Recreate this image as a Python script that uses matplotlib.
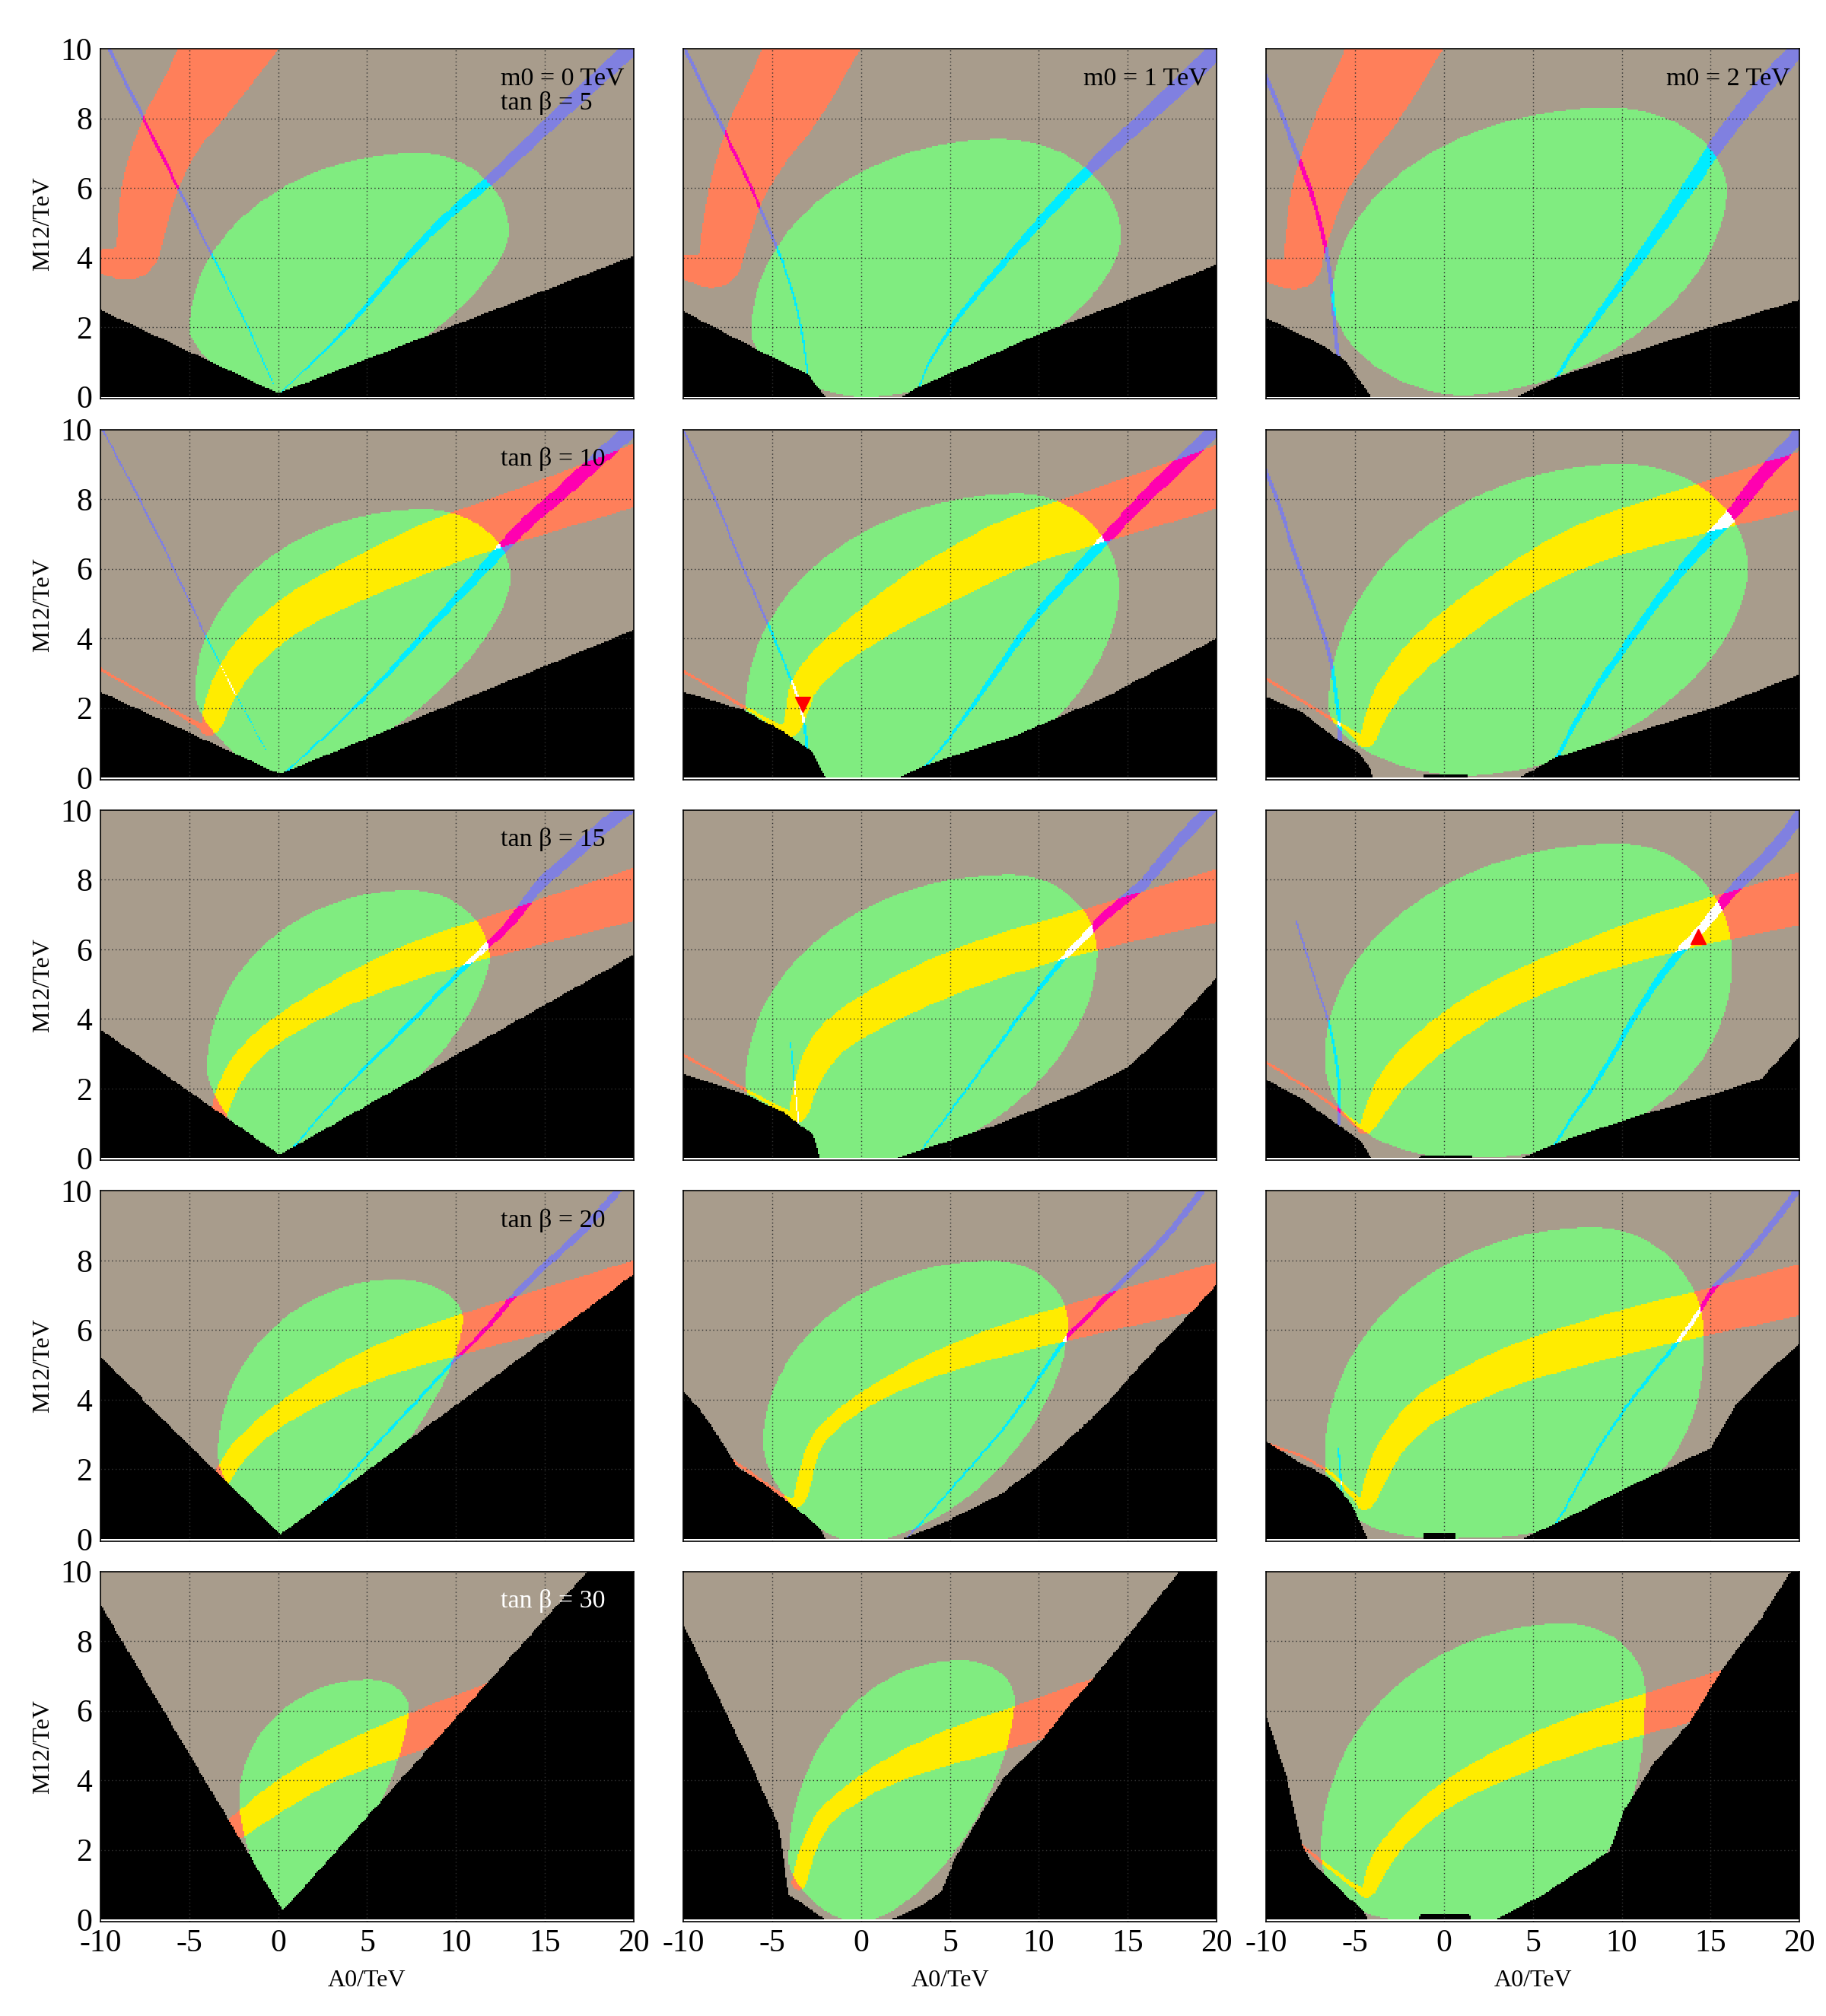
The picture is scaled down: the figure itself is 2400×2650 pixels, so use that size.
import numpy as np
import matplotlib
matplotlib.use('Agg')
import matplotlib.pyplot as plt
from matplotlib.colors import ListedColormap
from matplotlib.path import Path

A0_TICKS = [-10, -5, 0, 5, 10, 15, 20]
M12_TICKS = [0, 2, 4, 6, 8, 10]
M0_LABELS = ['m0 = 0 TeV', 'm0 = 1 TeV', 'm0 = 2 TeV']
TANB_LABELS = ['tan β = 5', 'tan β = 10', 'tan β = 15', 'tan β = 20', 'tan β = 30']

# panels are listed row by row (tan beta), three m0 columns each

# upper edge of the excluded (black) region, (A0, M12)
black_edge = [
    [(-10, 2.5), (0, 0.1), (20, 4.05)],
    [(-10, 2.46), (-5.5, 1.27), (-3.0, 0.65), (-2.0, 0.0), (2.3, 0.0), (3.1, 0.25), (9.7, 1.74), (14.6, 2.7), (20, 3.8)],
    [(-10, 2.28), (-6.7, 1.45), (-5.5, 1.01), (-4.1, 0.0), (4.1, 0.0), (6.4, 0.58), (13.8, 1.81), (20, 2.79)],
    [(-10, 2.46), (0.08, 0.1), (20, 4.24)],
    [(-10, 2.46), (-6.7, 1.96), (-4.3, 1.3), (-2.7, 0.72), (-2.0, 0.0), (2.2, 0.0), (3.5, 0.33), (8.8, 1.23), (13.7, 2.3), (20, 4.0)],
    [(-10, 2.32), (-8, 1.88), (-6, 1.09), (-4.8, 0.72), (-4.1, 0.22), (-4.0, 0.0), (-1.2, 0.0), (-1.15, 0.1), (1.3, 0.1),
     (1.35, 0.0), (4.25, 0.0), (6.3, 0.58), (11.3, 1.38), (15.3, 2.03), (20, 2.97)],
    [(-10, 3.7), (0.08, 0.1), (20, 5.85)],
    [(-10, 2.43), (-6.7, 1.88), (-4.3, 1.3), (-2.65, 0.65), (-2.3, 0.0), (2.0, 0.0), (7.5, 0.94), (12, 1.85), (15, 2.6),
     (17.5, 3.8), (20, 5.18)],
    [(-10, 2.25), (-8.1, 1.74), (-6.1, 1.01), (-4.7, 0.51), (-4.1, 0.0), (-1.4, 0.0), (-1.35, 0.1), (1.55, 0.1), (1.6, 0.0),
     (4.3, 0.0), (7.1, 0.58), (11.0, 1.23), (15.0, 1.81), (17.9, 2.3), (20, 3.5)],
    [(-10, 5.22), (0.1, 0.12), (20, 7.6)],
    [(-10, 4.24), (-8.8, 3.55), (-6.9, 2.03), (-5.7, 1.67), (-3.8, 0.94), (-2.3, 0.3), (-2.0, 0.0), (2.35, 0.0), (4.8, 0.5),
     (7.9, 1.3), (10, 2.1), (12.2, 3.1), (14, 4.0), (15.9, 5.1), (18, 6.2), (20, 7.3)],
    [(-10, 2.8), (-8.3, 2.25), (-6.4, 1.74), (-5.2, 1.0), (-4.3, 0.0), (-1.2, 0.0), (-1.15, 0.15), (0.65, 0.15), (0.7, 0.0),
     (4.4, 0.0), (6.5, 0.5), (10.2, 1.45), (13.3, 2.2), (15.0, 2.6), (16.4, 3.84), (18.3, 4.85), (20, 5.6)],
    [(-10, 9.05), (0.25, 0.25), (17.4, 10.0), (20, 11.5)],
    [(-10, 8.48), (-8.36, 6.74), (-6.3, 4.57), (-4.67, 2.75), (-4.06, 0.72), (-2.0, 0.0), (1.7, 0.0), (3.5, 0.43), (4.5, 0.8),
     (5.2, 1.67), (6.4, 2.75), (8.0, 4.06), (10.1, 5.1), (11.3, 5.9), (13.0, 6.9), (15.4, 8.4), (17.9, 10.0), (20, 11.3)],
    [(-10, 5.87), (-8.8, 3.99), (-7.95, 2.1), (-7.5, 1.67), (-6.3, 1.09), (-4.5, 0.22), (-4.3, 0.0), (-1.4, 0.0), (-1.35, 0.15),
     (1.45, 0.15), (1.5, 0.0), (2.9, 0.0), (5.6, 0.72), (9.3, 1.96), (10.1, 3.1), (11.7, 4.42), (13.8, 5.65), (15.8, 7.3),
     (17.9, 8.7), (19.5, 10.0), (20, 10.4)],
]

# green region: leftmost, topmost, rightmost, lowest point and shape of the lower half
# (x_left, y_left, x_top, y_top, x_right, y_right, x_bottom, y_bottom, n_low)
green_blob = [
    (-5.0, 1.9, 7.9, 7.0, 13.0, 4.7, 0.3, 0.0, 1.5),
    (-6.2, 1.8, 7.8, 7.4, 14.6, 4.6, 0.2, 0.0, 1.7),
    (-6.3, 2.8, 9.3, 8.3, 15.9, 5.9, 1.0, 0.05, 1.8),
    (-4.7, 2.4, 8.2, 7.7, 13.1, 5.7, 0.1, 0.05, 1.5),
    (-6.5, 1.96, 8.9, 8.15, 14.5, 5.4, 1.0, -0.6, 1.8),
    (-6.5, 2.03, 10.1, 9.0, 17.1, 6.0, 1.15, 0.05, 1.8),
    (-4.0, 2.54, 7.4, 7.7, 11.9, 5.72, 0.08, 0.05, 1.5),
    (-6.5, 2.17, 8.4, 8.15, 13.3, 5.87, 0.0, -0.2, 1.8),
    (-6.7, 2.9, 9.85, 9.04, 16.2, 5.8, 1.2, 0.02, 2.2),
    (-3.4, 2.4, 6.6, 7.45, 10.4, 6.3, 0.1, 0.05, 1.5),
    (-5.5, 2.75, 7.4, 7.99, 11.65, 6.16, -0.1, -0.1, 1.7),
    (-6.7, 2.4, 8.4, 8.95, 14.6, 5.87, 0.4, 0.02, 2.5),
    (-2.2, 3.42, 5.1, 6.9, 7.35, 6.04, 0.18, 0.25, 1.5),
    (-4.06, 1.67, 5.6, 7.45, 8.65, 6.3, -0.16, -0.1, 1.6),
    (-6.9, 2.03, 6.8, 8.5, 11.3, 6.6, -0.16, -0.1, 2.5),
]

# salmon band: centre line (A0, M12, half width)
salmon_band = [
    [(-2.3, 10.6, 1.3), (-4.4, 8.8, 1.05), (-6.2, 7.5, .88), (-7.3, 6.0, .78), (-7.7, 4.8, .66), (-8.0, 3.8, .57), (-10.3, 3.9, .3)],
    [(-2.3, 10.6, 1.28), (-4.27, 8.55, 1.15), (-5.7, 7.46, 1.0), (-7.0, 6.0, .78), (-7.8, 4.3, .64), (-8.0, 3.6, .58), (-10.3, 3.75, .3)],
    [(-2.3, 10.6, 1.28), (-4.37, 8.55, 1.12), (-5.7, 7.46, .95), (-7.1, 6.0, .74), (-7.85, 4.3, .58), (-8.0, 3.5, .52), (-10.3, 3.65, .28)],
    [(-10.3, 3.2, .04), (-4.3, 1.45, .04), (-3.8, 1.35, .25), (-3.4, 2.2, .38), (-2.2, 3.35, .45), (-0.2, 4.35, .5), (1.7, 5.0, .56),
     (5.0, 5.83, .61), (9.0, 6.75, .7), (12.5, 7.35, .7), (20, 8.65, .86), (21, 8.85, .88)],
    [(-10.3, 3.15, .04), (-6.5, 2.0, .04), (-4.6, 1.45, .06), (-4.0, 1.3, .25), (-3.6, 1.9, .3), (-3.3, 2.6, .38), (-2.4, 3.2, .42),
     (-0.9, 3.87, .46), (2.5, 5.1, .62), (5.0, 5.8, .7), (8.5, 6.75, .74), (12.0, 7.3, .75), (20, 8.62, .86), (21, 8.8, .88)],
    [(-10.3, 2.93, .04), (-6.5, 1.74, .04), (-5.0, 1.25, .06), (-4.35, 0.95, .22), (-3.95, 1.67, .28), (-3.2, 2.45, .36),
     (-2.2, 3.1, .42), (-1.0, 3.75, .47), (1.2, 4.65, .5), (3.35, 5.44, .5), (7.3, 6.6, .6), (11.3, 7.28, .65), (20, 8.52, .81),
     (21, 8.66, .82)],
    [(-3.4, 1.1, .22), (-3.0, 1.9, .28), (-2.0, 2.85, .3), (0.0, 3.75, .34), (3.7, 4.82, .42), (7.8, 5.72, .53), (11.8, 6.34, .57),
     (20, 7.57, .73), (21, 7.72, .74)],
    [(-10.3, 3.05, .04), (-6.5, 1.96, .04), (-4.3, 1.35, .06), (-3.6, 1.1, .25), (-3.2, 2.0, .32), (-2.3, 3.1, .45), (-0.6, 3.9, .53),
     (3.5, 5.0, .6), (7.55, 5.8, .62), (12.4, 6.5, .6), (20, 7.54, .74), (21, 7.68, .75)],
    [(-10.3, 2.85, .04), (-6.6, 1.67, .04), (-4.8, 0.9, .06), (-4.4, 0.8, .2), (-3.7, 1.6, .32), (-2.4, 2.61, .42), (0.2, 3.75, .46),
     (3.15, 4.7, .46), (7.1, 5.58, .48), (11.0, 6.28, .58), (15.5, 6.9, .65), (20, 7.45, .75), (21, 7.57, .76)],
    [(-3.6, 1.3, .25), (-2.6, 2.3, .27), (-1.5, 2.9, .28), (0, 3.55, .3), (3.1, 4.5, .39), (6.2, 5.22, .48), (9.9, 5.82, .56),
     (15.4, 6.63, .62), (20, 7.26, .71), (21, 7.4, .72)],
    [(-7.2, 2.25, .04), (-5.7, 1.7, .05), (-4.0, 1.05, .07), (-3.5, 1.0, .18), (-3.1, 1.9, .2), (-2.5, 2.95, .2), (-0.1, 3.95, .22),
     (3.6, 4.93, .32), (7.3, 5.6, .43), (11.5, 6.2, .5), (20, 7.3, .62), (21, 7.45, .63)],
    [(-10.3, 2.8, .04), (-7.0, 2.2, .04), (-5.0, 1.2, .05), (-4.4, 0.9, .2), (-3.9, 1.7, .3), (-3.0, 2.7, .35), (-1.2, 3.7, .45),
     (0.5, 4.2, .5), (4.1, 5.07, .57), (10.3, 5.98, .64), (14.6, 6.49, .65), (20, 7.15, .72), (21, 7.28, .73)],
    [(-3.4, 2.3, .3), (-2.2, 2.68, .33), (0.08, 3.57, .42), (3.2, 4.5, .44), (7.35, 5.33, .56), (11.86, 6.17, .6), (16, 6.9, .62)],
    [(-3.5, 1.05, .2), (-3.1, 1.9, .22), (-2.3, 2.8, .24), (-1.4, 3.3, .26), (1.5, 4.28, .36), (5.57, 5.07, .52), (8.5, 5.5, .56),
     (13, 6.3, .6), (16, 6.8, .62)],
    [(-8.2, 2.2, .04), (-6.9, 1.67, .05), (-4.8, 0.85, .06), (-4.25, 0.75, .2), (-3.8, 1.5, .28), (-2.6, 2.39, .3), (-0.16, 3.55, .34),
     (3.5, 4.53, .46), (7.6, 5.36, .53), (11.3, 5.9, .57), (16, 6.6, .6)],
]

# blue bands: one or two centre lines per panel (A0, M12, half width)
blue_bands = [
    [[(0.1, 0.1, .015), (1.74, 0.9, .025), (4.07, 2.06, .05), (7.56, 4.22, .09), (9.9, 5.38, .12), (12, 6.25, .15),
      (15.2, 7.83, .19), (19.8, 10.0, .23), (20.8, 10.4, .23)],
     [(-9.7, 10.2, .045), (-7.67, 8.09, .045), (-5.58, 5.96, .04), (-3.6, 3.94, .03), (-1.74, 2.06, .02), (-0.3, 0.4, .015)]],
    [[(3.0, 0.0, .02), (3.9, 1.09, .03), (5.57, 2.39, .06), (8.0, 3.84, .09), (10.5, 5.29, .13), (12.95, 6.6, .16),
      (15.4, 7.75, .2), (17.87, 8.9, .23), (20.5, 10.2, .25)],
     [(-10.1, 10.2, .045), (-7.95, 7.9, .045), (-5.9, 5.72, .04), (-4.67, 4.2, .035), (-3.85, 3.1, .03), (-3.24, 1.67, .025),
      (-2.95, 0.3, .02)]],
    [[(6.2, 0.45, .04), (7.2, 1.3, .06), (9.26, 2.75, .1), (11.3, 4.2, .14), (13.77, 6.0, .18), (15.4, 7.32, .21),
      (17.87, 8.9, .24), (20.5, 10.3, .25)],
     [(-10.1, 9.3, .06), (-9.18, 8.19, .06), (-8.36, 7.1, .06), (-7.54, 6.0, .06), (-6.72, 4.57, .055), (-6.3, 3.12, .05),
      (-6.1, 1.67, .05), (-5.9, 0.9, .05)]],
    [[(0.3, 0.1, .02), (2.9, 1.3, .03), (5.77, 2.75, .06), (9.0, 4.57, .09), (11.46, 5.94, .14), (13.9, 7.32, .18),
      (15.5, 7.97, .19), (17.97, 9.13, .21), (20.5, 10.3, .22)],
     [(-10.1, 10.2, .025), (-7.23, 7.46, .025), (-5.2, 5.29, .025), (-4.0, 3.99, .02), (-2.77, 2.75, .012), (-0.7, 0.8, .012)]],
    [[(3.0, 0.0, .02), (4.37, 0.72, .03), (5.94, 1.81, .05), (7.9, 3.26, .08), (9.9, 4.71, .1), (11.85, 5.8, .13),
      (13.8, 6.88, .15), (15.8, 7.97, .17), (17.75, 8.9, .19), (20.5, 10.3, .2)],
     [(-10.1, 10.1, .03), (-8.8, 8.7, .03), (-7.6, 7.25, .03), (-6.46, 5.8, .03), (-5.47, 4.71, .03), (-4.3, 3.26, .03),
      (-3.7, 2.54, .03), (-3.2, 1.67, .035), (-2.95, 0.3, .04)]],
    [[(6.2, 0.4, .05), (6.7, 0.94, .055), (8.3, 2.39, .08), (10.3, 3.84, .1), (12.3, 5.29, .12), (14.3, 6.52, .15),
      (16.3, 7.6, .18), (17.9, 8.7, .2), (20.5, 10.1, .22)],
     [(-10.1, 8.9, .05), (-9.4, 8.04, .05), (-8.6, 6.74, .05), (-7.6, 5.29, .05), (-6.8, 4.2, .05), (-6.3, 3.26, .05),
      (-6.1, 2.39, .05), (-5.9, 1.67, .05), (-5.86, 1.0, .05)]],
    [[(0.5, 0.1, .02), (3.74, 2.03, .03), (6.6, 3.48, .045), (9.0, 4.71, .06), (10.65, 5.58, .07), (11.87, 6.16, .09),
      (13.1, 6.74, .12), (14.7, 7.9, .15), (16.3, 8.55, .17), (17.97, 9.42, .19), (20.3, 10.3, .2)]],
    [[(3.2, 0.1, .02), (5.5, 1.67, .03), (7.55, 3.12, .04), (9.6, 4.57, .05), (11.2, 5.65, .07), (12.45, 6.3, .09),
      (13.7, 6.96, .12), (14.9, 7.46, .14), (16.1, 7.97, .15), (17.75, 9.06, .16), (20.2, 10.3, .17)],
     [(-3.95, 3.3, .018), (-3.5, 0.9, .018)]],
    [[(6.1, 0.3, .035), (7.1, 1.09, .04), (9.05, 2.54, .06), (11.0, 4.35, .08), (13.0, 5.8, .11), (13.98, 6.3, .12),
      (14.96, 6.88, .13), (16.3, 7.75, .15), (17.5, 8.33, .16), (18.9, 9.06, .17), (20.5, 10.2, .17)],
     [(-8.3, 6.8, .025), (-7.2, 5.0, .025), (-6.5, 3.99, .03), (-6.2, 3.26, .035), (-5.9, 2.17, .04), (-5.9, 1.0, .04)]],
    [[(1.3, 0.4, .02), (3.1, 1.3, .03), (5.56, 2.75, .035), (8.0, 4.06, .04), (9.9, 5.14, .045), (11.7, 6.01, .06),
      (13.3, 7.03, .08), (15.4, 8.04, .09), (17.3, 8.91, .1), (19.6, 10.3, .1)]],
    [[(2.5, 0.0, .02), (3.6, 0.58, .025), (6.1, 2.03, .03), (8.55, 3.48, .035), (10.4, 4.93, .045), (11.65, 5.87, .055),
      (12.6, 6.3, .065), (14.1, 7.1, .075), (16.0, 8.04, .085), (17.8, 9.06, .09), (19.6, 10.3, .09)]],
    [[(6.1, 0.3, .02), (6.9, 0.94, .03), (8.4, 2.39, .035), (10.3, 3.84, .04), (12.76, 5.43, .05), (13.7, 6.01, .055),
      (14.6, 6.74, .06), (15.2, 7.25, .07), (16.5, 7.83, .08), (18.3, 8.91, .09), (20.3, 10.3, .1)],
     [(-5.95, 2.6, .025), (-5.7, 0.9, .025)]],
    [], [], [],
]

# best fit points (panel index, A0, M12, marker)
best_points = [(4, -3.27, 2.1, 'v'), (8, 14.3, 6.38, '^')]

# colours: nothing, green, salmon, green+salmon, blue, green+blue, salmon+blue, all three, excluded
region_colors = ['#a89c8c', '#80ec80', '#ff7f5a', '#ffec00', '#8080e0', '#00ecff', '#ff00b0', '#ffffff', '#000000']

NX, NY = 360, 240
SX = 0.5  # A0 is scaled by this when measuring band widths


def green_path(g):
    xl, yl, xt, yt, xr, yr, xb, yb, n = g
    u = np.linspace(0, np.pi / 2, 60)
    c, s = np.cos(u), np.sin(u)
    e = 2.0 / n
    q1 = np.c_[xt + (xr - xt) * c, yr + (yt - yr) * s]
    q2 = np.c_[xt - (xt - xl) * s, yl + (yt - yl) * c]
    q3 = np.c_[xb - (xb - xl) * c ** e, yl - (yl - yb) * s ** e]
    q4 = np.c_[xb + (xr - xb) * s ** e, yr - (yr - yb) * c ** e]
    return Path(np.vstack([q1, q2, q3, q4]))


def smooth(pts, n=2):
    # corner cutting so the bands bend instead of kinking
    p = np.asarray(pts, dtype=float)
    for _ in range(n):
        q = [p[0]]
        for a, b in zip(p[:-1], p[1:]):
            q.append(0.75 * a + 0.25 * b)
            q.append(0.25 * a + 0.75 * b)
        q.append(p[-1])
        p = np.array(q)
    return p


def in_band(X, Y, pts):
    pts = smooth(pts)
    U = X * SX
    inside = np.zeros(X.shape, dtype=bool)
    for (x0, y0, w0), (x1, y1, w1) in zip(pts[:-1], pts[1:]):
        du, dy = (x1 - x0) * SX, y1 - y0
        L2 = du * du + dy * dy
        if L2 == 0:
            continue
        t = np.clip(((U - x0 * SX) * du + (Y - y0) * dy) / L2, 0, 1)
        d = np.hypot(U - (x0 * SX + t * du), Y - (y0 + t * dy))
        inside |= d <= w0 + (w1 - w0) * t
    return inside


xs = np.linspace(-10, 20, NX + 1)
ys = np.linspace(0, 10, NY + 1)
xc = 0.5 * (xs[1:] + xs[:-1])
yc = 0.5 * (ys[1:] + ys[:-1])
X, Y = np.meshgrid(xc, yc)

plt.rcParams['font.family'] = ['Liberation Serif', 'DejaVu Serif']
plt.rcParams['axes.unicode_minus'] = False

fig, axes = plt.subplots(5, 3, figsize=(24, 26.5), dpi=100,
                         gridspec_kw=dict(left=0.055, right=0.9855, top=0.9758, bottom=0.0468,
                                          wspace=0.093, hspace=0.087))
cmap = ListedColormap(region_colors)

for k, ax in enumerate(axes.flat):
    row, col = divmod(k, 3)
    be = np.array(black_edge[k])
    black = Y < np.interp(X, be[:, 0], be[:, 1])
    green = green_path(green_blob[k]).contains_points(np.c_[X.ravel(), Y.ravel()]).reshape(X.shape)
    salmon = in_band(X, Y, salmon_band[k])
    blue = np.zeros(X.shape, dtype=bool)
    for line in blue_bands[k]:
        blue |= in_band(X, Y, line)
    code = green * 1 + salmon * 2 + blue * 4
    code[black] = 8
    ax.pcolormesh(xs, ys, code, cmap=cmap, vmin=-0.5, vmax=8.5, shading='flat', zorder=1, rasterized=True)

    for gx in A0_TICKS[1:-1]:
        ax.axvline(gx, color='#303030', lw=1.0, ls=(0, (1, 2.5)), zorder=2)
    for gy in M12_TICKS[1:-1]:
        ax.axhline(gy, color='#303030', lw=1.0, ls=(0, (1, 2.5)), zorder=2)

    for (pk, px, py, mk) in best_points:
        if pk == k:
            ax.plot(px, py, marker=mk, color='#ff0000', markersize=15, ls='none', zorder=4)

    ax.set_xlim(-10, 20)
    ax.set_ylim(-0.06, 10)
    ax.set_xticks(A0_TICKS)
    ax.set_yticks(M12_TICKS)
    ax.tick_params(length=0, labelsize=30, pad=8)
    ax.tick_params(axis='x', pad=7)
    ax.set_xticklabels([str(t) for t in A0_TICKS] if row == 4 else [])
    ax.set_yticklabels([str(t) for t in M12_TICKS] if col == 0 else [])
    for sp in ax.spines.values():
        sp.set_linewidth(1.2)
    if col == 0:
        ax.set_ylabel('M12/TeV', fontsize=23, labelpad=6)
    if row == 4:
        ax.set_xlabel('A0/TeV', fontsize=23, labelpad=11)

    if row == 0:
        ax.text(12.5, 9.15, M0_LABELS[col], fontsize=24.5, ha='left', va='center', zorder=5)
    if col == 0:
        ty = 8.45 if row == 0 else 9.15
        tc = 'white' if row == 4 else 'black'
        ax.text(12.5, ty, TANB_LABELS[row], fontsize=24.5, ha='left', va='center', color=tc, zorder=5)

fig.savefig('out.png', dpi=100)
